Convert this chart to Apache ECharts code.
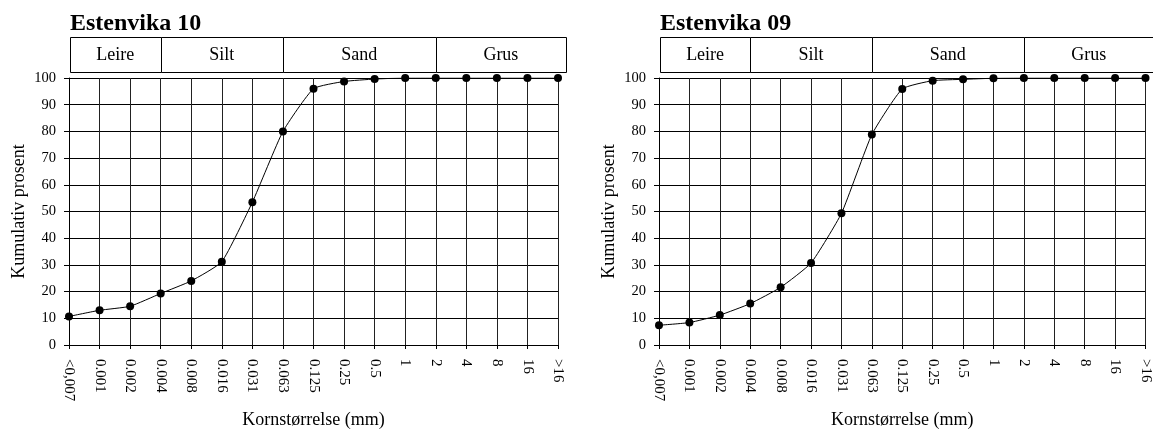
<!DOCTYPE html>
<html><head><meta charset="utf-8">
<script src="https://cdn.jsdelivr.net/npm/echarts@6/dist/echarts.min.js"></script>
<style>html,body{margin:0;padding:0;background:#fff}#c{width:1153px;height:434px}</style>
</head><body><div id="c"></div>
<script>
const categories = ['<0,007','0.001','0.002','0.004','0.008','0.016','0.031','0.063','0.125','0.25','0.5','1','2','4','8','16','>16'];
const estenvika10 = [10.7, 13.0, 14.5, 19.3, 24.0, 31.2, 53.5, 80.0, 96.0, 98.7, 99.6, 100, 100, 100, 100, 100, 100];
const estenvika09 = [7.4, 8.4, 11.2, 15.5, 21.6, 30.7, 49.3, 78.8, 95.9, 99.0, 99.5, 99.9, 100, 100, 100, 100, 100];
const chartTitles = ['Estenvika 10', 'Estenvika 09'];
const classNames = ['Leire', 'Silt', 'Sand', 'Grus'];
const classBounds = [0, 3, 7, 12, 16];
const yMin = 0, yMax = 100, yStep = 10;
const xName = 'Kornstørrelse (mm)';
const yName = 'Kumulativ prosent';

const FONT = "'Liberation Serif','Times New Roman',serif";
const chart = echarts.init(document.getElementById('c'), null, {renderer: 'canvas'});
const seriesData = [estenvika10, estenvika09];
const gridLefts = [69, 659];

const option = {
  animation: false,
  backgroundColor: '#fff',
  textStyle: {fontFamily: FONT, color: '#000'},
  title: chartTitles.map((t, i) => ({
    text: t, left: gridLefts[i] + 1, top: 12, padding: 0,
    textStyle: {fontFamily: FONT, fontWeight: 'bold', fontSize: 24, color: '#000'}
  })),
  grid: gridLefts.map(l => ({left: l, top: 78, width: 489, height: 271, containLabel: false})),
  xAxis: gridLefts.map((l, i) => ({
    gridIndex: i, type: 'category', data: categories, boundaryGap: false,
    name: xName, nameLocation: 'middle', nameGap: 66,
    nameTextStyle: {fontFamily: FONT, fontSize: 18, color: '#000'},
    axisLine: {lineStyle: {color: '#000', width: 1}},
    axisTick: {show: true, length: 4, lineStyle: {color: '#000'}},
    axisLabel: {rotate: -90, margin: 14, fontFamily: FONT, fontSize: 15, color: '#000', interval: 0},
    splitLine: {show: true, lineStyle: {color: '#222', width: 1}}
  })),
  yAxis: gridLefts.map((l, i) => ({
    gridIndex: i, type: 'value', min: yMin, max: yMax, interval: yStep,
    name: yName, nameLocation: 'middle', nameGap: 41,
    nameTextStyle: {fontFamily: FONT, fontSize: 18, color: '#000'},
    axisLine: {show: true, lineStyle: {color: '#000', width: 1}},
    axisTick: {show: true, length: 5, lineStyle: {color: '#000'}},
    axisLabel: {margin: 13, fontFamily: FONT, fontSize: 14.5, color: '#000'},
    splitLine: {show: true, lineStyle: {color: '#000', width: 1}}
  })),
  series: seriesData.map((d, i) => ({
    type: 'line', xAxisIndex: i, yAxisIndex: i, data: d,
    smooth: 0.15, symbol: 'circle', symbolSize: 8, showSymbol: true,
    itemStyle: {color: '#000'}, lineStyle: {color: '#000', width: 1}, z: 5
  }))
};
chart.setOption(option);

// classification boxes above each plot, positioned from the category axis
const graphics = [];
for (let g = 0; g < 2; g++) {
  const px = classBounds.map(b => chart.convertToPixel({xAxisIndex: g}, b));
  px[px.length - 1] += 8;
  px[0] += 1;
  const yTop = chart.convertToPixel({yAxisIndex: g}, yMax);
  const boxTop = yTop - 41, boxH = 35;
  for (let k = 0; k < classNames.length; k++) {
    const x0 = px[k], x1 = px[k + 1];
    graphics.push({
      type: 'rect', shape: {x: Math.round(x0) + 0.5, y: boxTop + 0.5, width: Math.round(x1 - x0), height: boxH},
      style: {fill: '#fff', stroke: '#000', lineWidth: 1}, z: 10
    });
    graphics.push({
      type: 'text', x: (x0 + x1) / 2, y: boxTop + boxH / 2 + 1,
      style: {text: classNames[k], font: '18px ' + FONT, fill: '#000', textAlign: 'center', textVerticalAlign: 'middle'}, z: 11
    });
  }
}
chart.setOption({graphic: graphics});
</script></body></html>
